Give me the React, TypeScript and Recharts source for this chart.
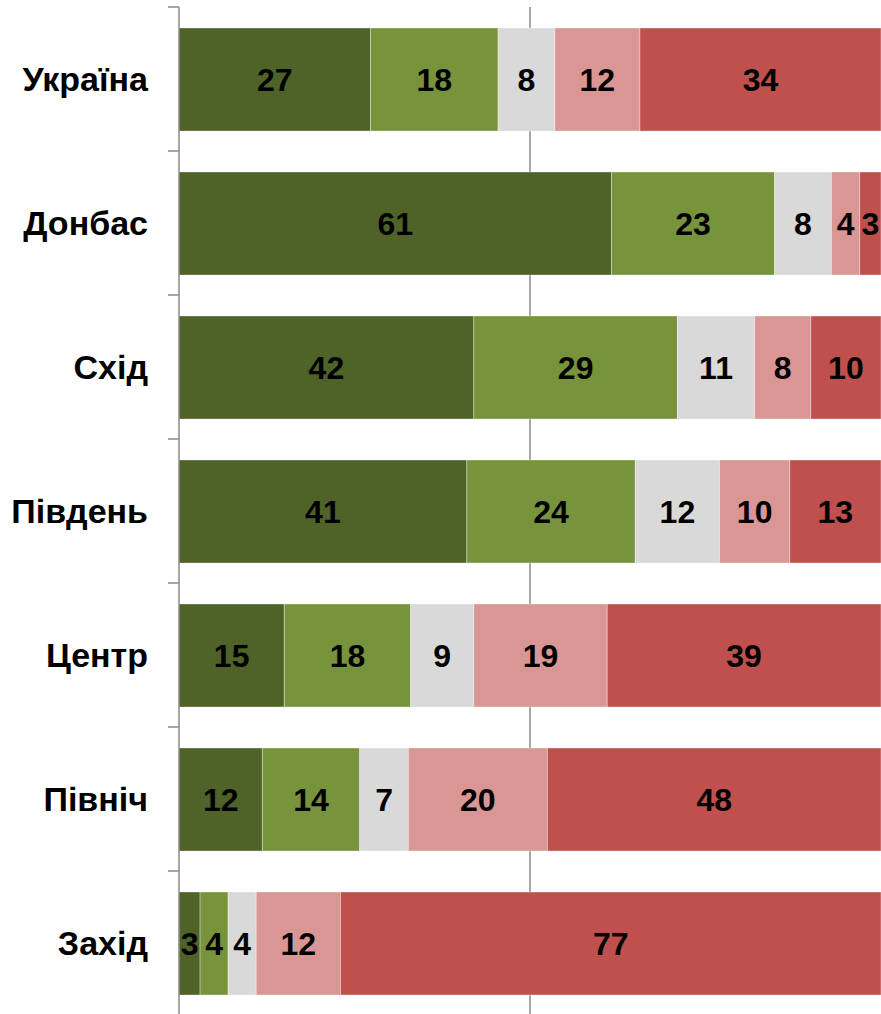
import { BarChart, Bar, XAxis, YAxis, CartesianGrid, LabelList } from "recharts";

const REGIONS = ["Україна", "Донбас", "Схід", "Південь", "Центр", "Північ", "Захід"];
const S1 = [27, 61, 42, 41, 15, 12, 3];
const S2 = [18, 23, 29, 24, 18, 14, 4];
const S3 = [8, 8, 11, 12, 9, 7, 4];
const S4 = [12, 4, 8, 10, 19, 20, 12];
const S5 = [34, 3, 10, 13, 39, 48, 77];
const X_TICKS = [0.5];

const SERIES = [
  { key: "s1", values: S1, color: "#4f6228" },
  { key: "s2", values: S2, color: "#77933c" },
  { key: "s3", values: S3, color: "#d9d9d9" },
  { key: "s4", values: S4, color: "#d99694" },
  { key: "s5", values: S5, color: "#c0504d" },
];

const data = REGIONS.map((name, i) => {
  const row: Record<string, string | number> = { name };
  SERIES.forEach((s) => (row[s.key] = s.values[i]));
  return row;
});

const FONT = "'Liberation Sans', Arial, sans-serif";
const AXIS = "#898989";

// category label plus an Excel-style tick mark on the band edges
function RegionTick(props: any) {
  const { x, y, payload, index, visibleTicksCount } = props;
  const half = payload.offset || 0;
  const axisX = x + 31;
  return (
    <g>
      <line x1={axisX - 11} x2={axisX} y1={y - half} y2={y - half} stroke={AXIS} strokeWidth={1.5} />
      {index === visibleTicksCount - 1 && (
        <line x1={axisX - 11} x2={axisX} y1={y + half} y2={y + half} stroke={AXIS} strokeWidth={1.5} />
      )}
      <text x={x} y={y} dy={12} textAnchor="end" fill="#000" fontSize={34} fontWeight="bold" fontFamily={FONT}>
        {payload.value}
      </text>
    </g>
  );
}

export default function App() {
  return (
    <div style={{ position: "absolute", left: 0, top: 0, width: 881, height: 1014, overflow: "hidden", background: "#fff" }}>
      <BarChart
        width={881}
        height={1015}
        data={data}
        layout="vertical"
        stackOffset="expand"
        margin={{ top: 7, right: 0, bottom: 0, left: 9 }}
        barSize={103}
      >
        <CartesianGrid horizontal={false} syncWithTicks stroke={AXIS} strokeWidth={1.5} />
        <XAxis type="number" domain={[0, 1]} ticks={X_TICKS} interval={0} hide />
        <YAxis
          type="category"
          dataKey="name"
          width={170}
          axisLine={{ stroke: AXIS, strokeWidth: 1.5 }}
          tickLine={false}
          tickSize={0}
          tickMargin={31}
          interval={0}
          tick={<RegionTick />}
        />
        {SERIES.map((s) => (
          <Bar
            key={s.key}
            dataKey={s.key}
            stackId="a"
            fill={s.color}
            stroke="rgba(255,255,255,0.35)"
            strokeWidth={1}
            isAnimationActive={false}
          >
            <LabelList
              dataKey={s.key}
              position="center"
              fill="#000"
              style={{ fontSize: 32, fontWeight: "bold", fontFamily: FONT }}
            />
          </Bar>
        ))}
      </BarChart>
    </div>
  );
}
